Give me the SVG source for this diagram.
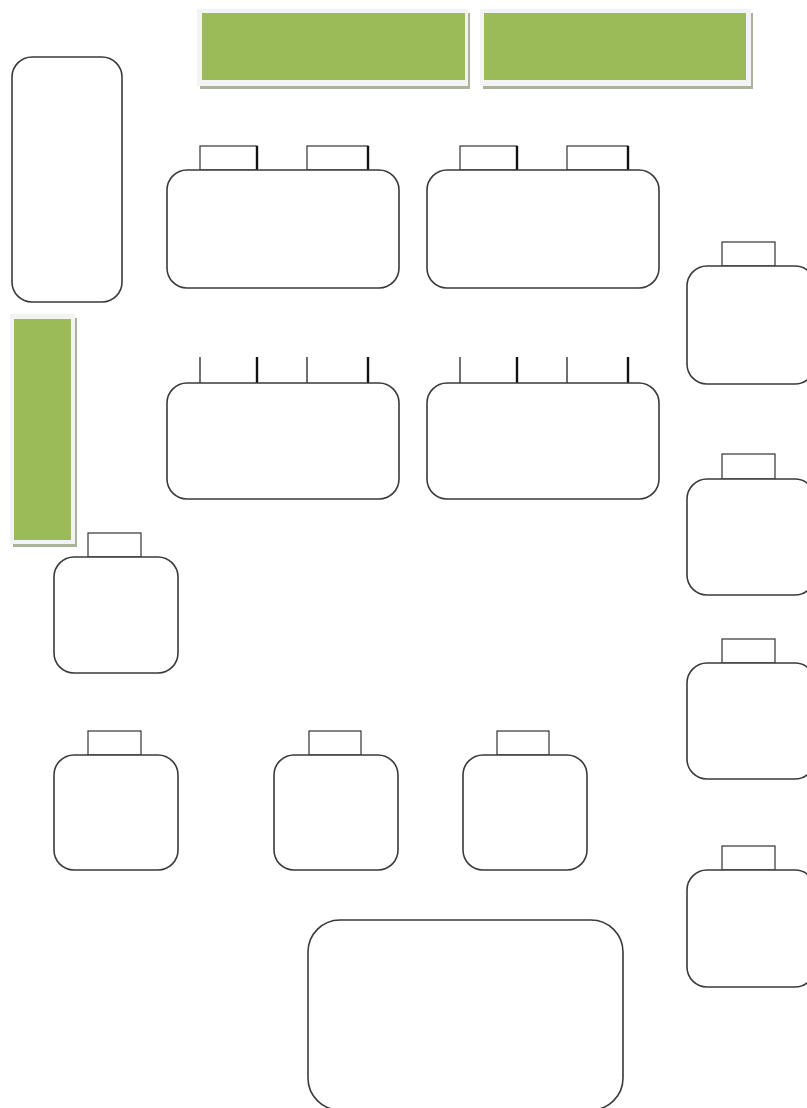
<svg xmlns="http://www.w3.org/2000/svg" width="807" height="1108" viewBox="0 0 807 1108">
<style>
.body{fill:#fff;stroke:#3a3a3a;stroke-width:1.6}
.tab{fill:#fff;stroke:#333;stroke-width:1.2}
.tabr{stroke:#111;stroke-width:2.4}
.tl{stroke:#222;stroke-width:1.3}
.frame{fill:#f3f3f3}
.shadow{fill:#a8b39a}
.green{fill:#9bbb59}
</style>
<rect width="807" height="1108" fill="#fff"/>
<g id="banner1">
<rect class="shadow" x="200" y="13" width="270" height="76"/>
<rect class="frame" x="197" y="9" width="271" height="77"/>
<rect class="green" x="202" y="13" width="263" height="67"/>
</g>
<g id="banner2">
<rect class="shadow" x="483" y="13" width="270" height="76"/>
<rect class="frame" x="480" y="9" width="271" height="77"/>
<rect class="green" x="484" y="13" width="262" height="67"/>
</g>
<g id="sidebar">
<rect class="shadow" x="13" y="318" width="64" height="229"/>
<rect class="frame" x="10" y="314" width="65" height="230"/>
<rect class="green" x="14" y="319" width="57" height="221"/>
</g>
<g id="tallbox">
<rect class="body" x="12" y="57" width="110" height="245" rx="20"/>
</g>
<g id="block1">
<rect class="tab" x="200" y="146" width="57" height="24"/><line class="tabr" x1="257" y1="146" x2="257" y2="170"/>
<rect class="tab" x="307" y="146" width="61" height="24"/><line class="tabr" x1="368" y1="146" x2="368" y2="170"/>
<rect class="body" x="167" y="170" width="232" height="118" rx="20"/>
</g>
<g id="block2">
<rect class="tab" x="460" y="146" width="57" height="24"/><line class="tabr" x1="517" y1="146" x2="517" y2="170"/>
<rect class="tab" x="567" y="146" width="61" height="24"/><line class="tabr" x1="628" y1="146" x2="628" y2="170"/>
<rect class="body" x="427" y="170" width="232" height="118" rx="20"/>
</g>
<g id="block3">
<line class="tl" x1="200" y1="357" x2="200" y2="383"/><line class="tabr" x1="257" y1="357" x2="257" y2="383"/>
<line class="tl" x1="307" y1="357" x2="307" y2="383"/><line class="tabr" x1="368" y1="357" x2="368" y2="383"/>
<rect class="body" x="167" y="383" width="232" height="116" rx="20"/>
</g>
<g id="block4">
<line class="tl" x1="460" y1="357" x2="460" y2="383"/><line class="tabr" x1="517" y1="357" x2="517" y2="383"/>
<line class="tl" x1="567" y1="357" x2="567" y2="383"/><line class="tabr" x1="628" y1="357" x2="628" y2="383"/>
<rect class="body" x="427" y="383" width="232" height="116" rx="20"/>
</g>
<g id="right1">
<rect class="tab" x="722" y="242" width="53" height="24"/>
<rect class="body" x="687" y="266" width="128" height="118" rx="20"/>
</g>
<g id="right2">
<rect class="tab" x="722" y="454" width="53" height="25"/>
<rect class="body" x="687" y="479" width="128" height="116" rx="20"/>
</g>
<g id="right3">
<rect class="tab" x="722" y="639" width="53" height="24"/>
<rect class="body" x="687" y="663" width="128" height="116" rx="20"/>
</g>
<g id="right4">
<rect class="tab" x="722" y="846" width="53" height="24"/>
<rect class="body" x="687" y="870" width="128" height="117" rx="20"/>
</g>
<g id="left1">
<rect class="tab" x="88" y="533" width="53" height="24"/>
<rect class="body" x="54" y="557" width="124" height="116" rx="20"/>
</g>
<g id="bottom1">
<rect class="tab" x="88" y="731" width="53" height="24"/>
<rect class="body" x="54" y="755" width="124" height="115" rx="20"/>
</g>
<g id="bottom2">
<rect class="tab" x="309" y="731" width="52" height="24"/>
<rect class="body" x="274" y="755" width="124" height="115" rx="20"/>
</g>
<g id="bottom3">
<rect class="tab" x="497" y="731" width="52" height="24"/>
<rect class="body" x="463" y="755" width="124" height="115" rx="20"/>
</g>
<g id="bigbox">
<rect class="body" x="308" y="920" width="315" height="190" rx="32"/>
</g>
</svg>
